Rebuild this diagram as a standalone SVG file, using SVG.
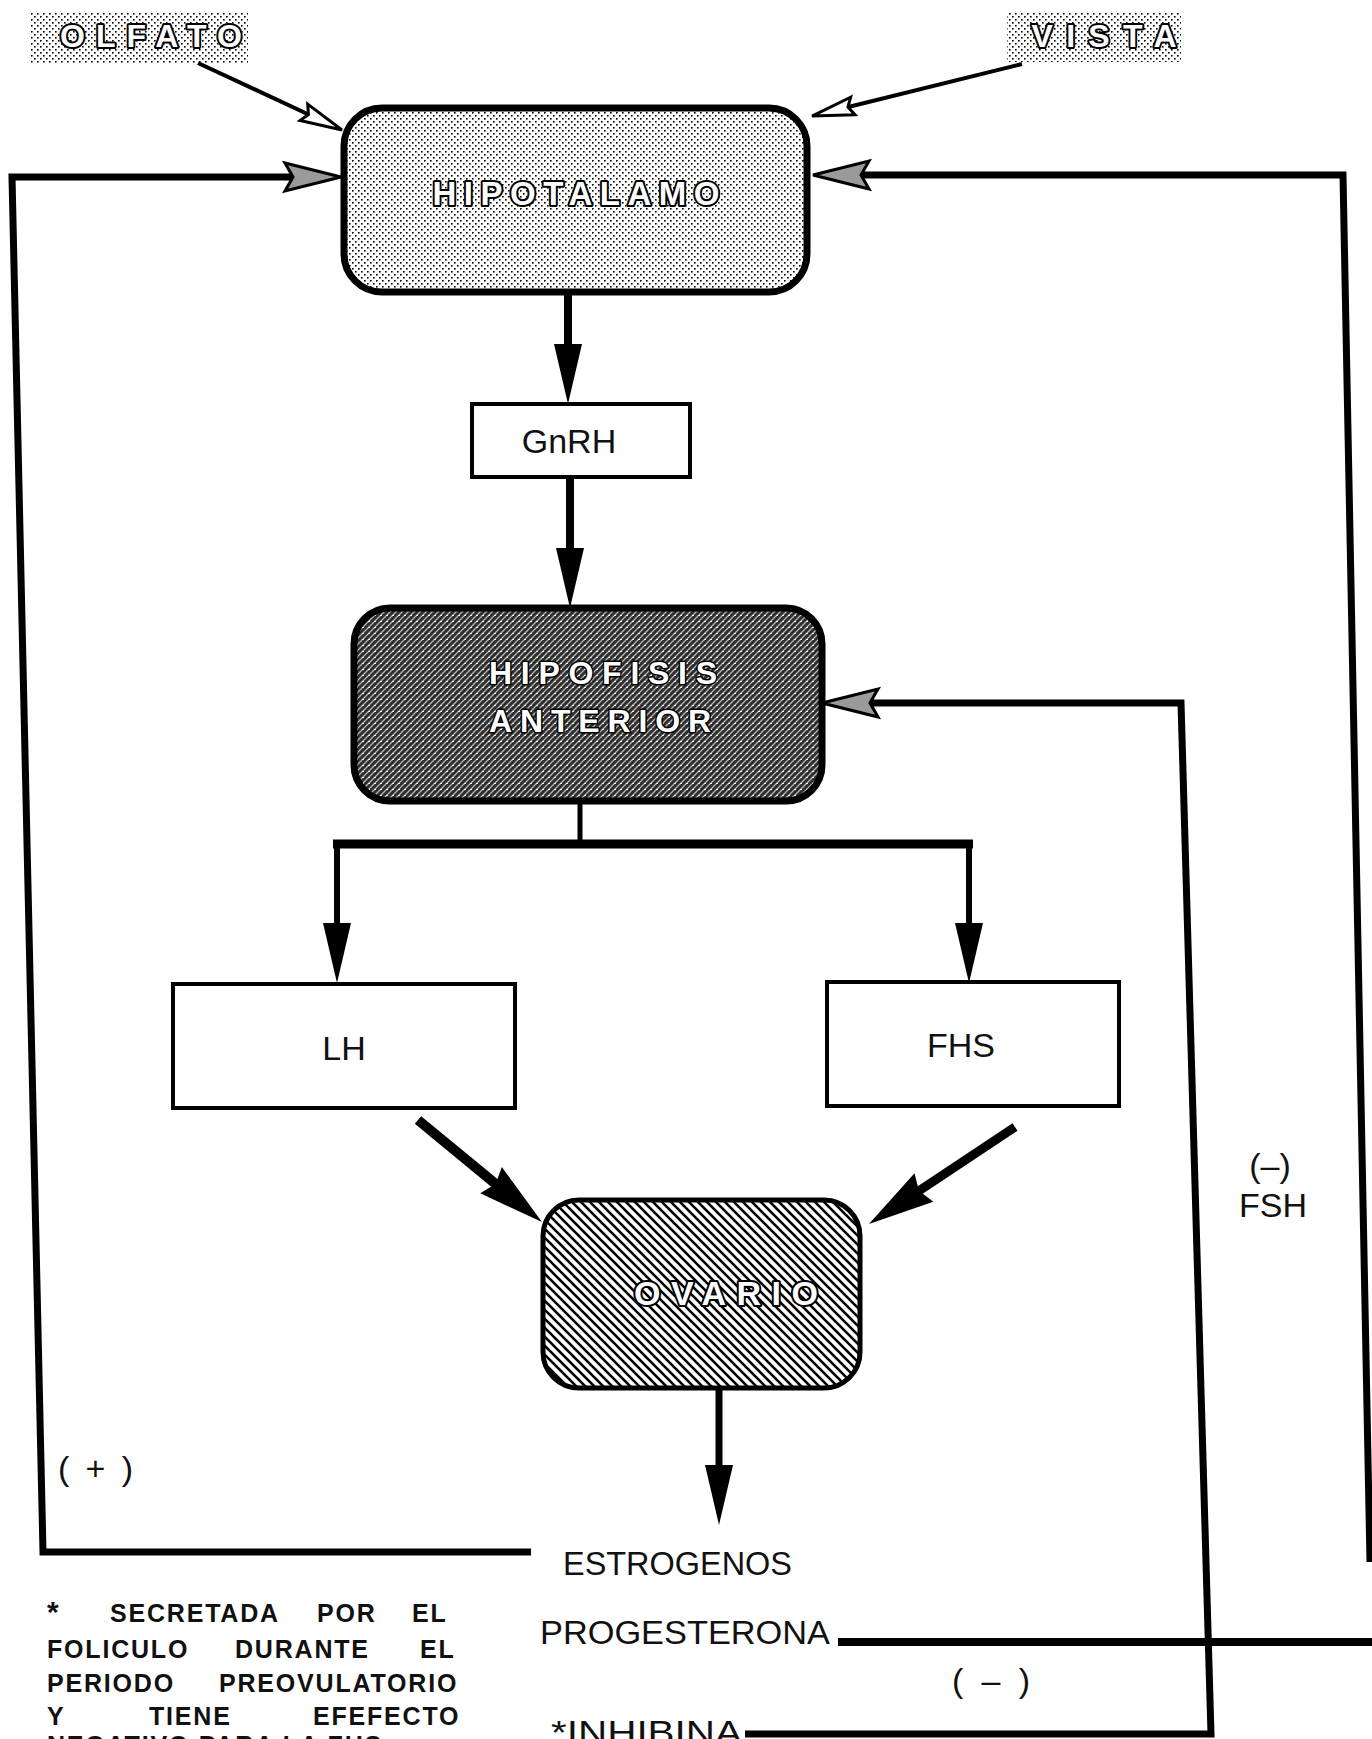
<svg xmlns="http://www.w3.org/2000/svg" width="1372" height="1739" viewBox="0 0 1372 1739">
<defs>
<style>
.lbl{font-family:"Liberation Sans",Arial,sans-serif;font-size:34px;fill:#111}
.note{font-family:"Liberation Sans",Arial,sans-serif;font-size:25px;font-weight:bold;fill:#111;letter-spacing:1.8px}
.out{font-family:"Liberation Sans",Arial,sans-serif;font-weight:bold;fill:#fff;stroke:#000;stroke-width:4;paint-order:stroke fill;stroke-linejoin:round}
.box{fill:#fff;stroke:#000;stroke-width:4}
.ln{fill:none;stroke:#000;stroke-linejoin:miter;stroke-linecap:butt}
</style>
<pattern id="dots" width="6" height="6" patternUnits="userSpaceOnUse">
<rect width="6" height="6" fill="#fff"/>
<rect x="1" y="1" width="1.6" height="1.6" fill="#000"/>
<rect x="4" y="4" width="1.6" height="1.6" fill="#000"/>
</pattern>
<pattern id="dark" width="6" height="6" patternUnits="userSpaceOnUse">
<rect width="6" height="6" fill="#2e2e2e"/>
<path d="M-1,7 L7,-1 M-1,1 L1,-1 M5,7 L7,5" stroke="#b5b5b5" stroke-width="1.3"/>
<rect x="2" y="3" width="2" height="1" fill="#eee"/>
</pattern>
<pattern id="hatch" width="9" height="9" patternUnits="userSpaceOnUse">
<rect width="9" height="9" fill="#fff"/>
<path d="M-1,-1 L10,10 M-1,8 L1,10 M8,-1 L10,1" stroke="#000" stroke-width="2.6"/>
</pattern>
<marker id="ah" markerUnits="userSpaceOnUse" markerWidth="62" markerHeight="30" refX="20" refY="15" orient="auto" overflow="visible">
<path d="M0,1 L60,15 L0,29 Z" fill="#000"/>
</marker>
<marker id="ahBig" markerUnits="userSpaceOnUse" markerWidth="68" markerHeight="36" refX="22" refY="18" orient="auto" overflow="visible">
<path d="M0,1 L66,18 L0,35 L6,18 Z" fill="#000"/>
</marker>
<marker id="ahH" markerUnits="userSpaceOnUse" markerWidth="60" markerHeight="32" refX="20" refY="16" orient="auto" overflow="visible">
<path d="M2,2 L58,16 L2,30 L10,16 Z" fill="#9a9a9a" stroke="#000" stroke-width="3" stroke-linejoin="miter"/>
</marker>
<marker id="ahS" markerUnits="userSpaceOnUse" markerWidth="46" markerHeight="22" refX="16" refY="11" orient="auto" overflow="visible">
<path d="M2,2 L44,11 L2,20 L7,11 Z" fill="#fff" stroke="#000" stroke-width="3" stroke-linejoin="miter"/>
</marker>
</defs>
<rect width="1372" height="1739" fill="#fff"/>

<g id="olfato">
<rect x="30" y="12" width="218" height="51" fill="url(#dots)"/>
<text class="out" x="151" y="47" font-size="32" text-anchor="middle" textLength="182" lengthAdjust="spacing">OLFATO</text>
</g>
<g id="vista">
<rect x="1007" y="12" width="174" height="50" fill="url(#dots)"/>
<text class="out" x="1104" y="47" font-size="32" text-anchor="middle" textLength="145" lengthAdjust="spacing">VISTA</text>
</g>

<g id="hipotalamo">
<rect x="344" y="108" width="463" height="184" rx="38" fill="url(#dots)" stroke="#000" stroke-width="7"/>
<text class="out" x="576" y="205" font-size="33" text-anchor="middle" textLength="287" lengthAdjust="spacing">HIPOTALAMO</text>
</g>

<g id="gnrh">
<rect class="box" x="472" y="404" width="218" height="73"/>
<text class="lbl" x="569" y="453" font-size="32" text-anchor="middle">GnRH</text>
</g>

<g id="hipofisis">
<rect x="354" y="608" width="468" height="193" rx="36" fill="url(#dark)" stroke="#000" stroke-width="7"/>
<text class="out" x="603" y="684" font-size="32" text-anchor="middle" textLength="228" lengthAdjust="spacing" style="stroke-width:3">HIPOFISIS</text>
<text class="out" x="600" y="732" font-size="32" text-anchor="middle" textLength="222" lengthAdjust="spacing" style="stroke-width:3">ANTERIOR</text>
</g>

<g id="lh">
<rect class="box" x="173" y="984" width="342" height="124"/>
<text class="lbl" x="344" y="1060" text-anchor="middle">LH</text>
</g>

<g id="fhs">
<rect class="box" x="827" y="982" width="292" height="124"/>
<text class="lbl" x="961" y="1057" text-anchor="middle">FHS</text>
</g>

<g id="ovario">
<rect x="543" y="1200" width="317" height="188" rx="36" fill="url(#hatch)" stroke="#000" stroke-width="5"/>
<text class="out" x="726" y="1305" font-size="34" text-anchor="middle" textLength="184" lengthAdjust="spacing">OVARIO</text>
</g>

<g id="estrogenos">
<text class="lbl" x="563" y="1575" textLength="229" lengthAdjust="spacingAndGlyphs">ESTROGENOS</text>
</g>
<g id="progesterona">
<text class="lbl" x="540" y="1644" textLength="290" lengthAdjust="spacingAndGlyphs">PROGESTERONA</text>
</g>
<g id="inhibina">
<text class="lbl" x="551" y="1744" font-size="35" textLength="191" lengthAdjust="spacingAndGlyphs">*INHIBINA</text>
</g>

<g id="labels">
<text class="lbl" x="58" y="1480" font-size="30" textLength="75" lengthAdjust="spacing">( + )</text>
<text class="lbl" x="952" y="1692" font-size="30" textLength="78" lengthAdjust="spacing">( – )</text>
<text class="lbl" x="1270" y="1177" font-size="30" text-anchor="middle">(–)</text>
<text class="lbl" x="1273" y="1217" text-anchor="middle">FSH</text>
</g>

<g id="nota">
<text class="note" y="1622"><tspan x="47" font-size="30">*</tspan><tspan x="110">SECRETADA</tspan><tspan x="317">POR</tspan><tspan x="412">EL</tspan></text>
<text class="note" y="1658"><tspan x="47">FOLICULO</tspan><tspan x="235">DURANTE</tspan><tspan x="420">EL</tspan></text>
<text class="note" y="1692"><tspan x="47">PERIODO</tspan><tspan x="219">PREOVULATORIO</tspan></text>
<text class="note" y="1725"><tspan x="47">Y</tspan><tspan x="149">TIENE</tspan><tspan x="313">EFEFECTO</tspan></text>
<text class="note" y="1754" x="47">NEGATIVO PARA LA FHS</text>
</g>

<g id="connectors">
<path class="ln" d="M198,63 L316.6,118.2" stroke-width="4" marker-end="url(#ahS)"/>
<path class="ln" d="M1022,64 L839.2,109.3" stroke-width="4" marker-end="url(#ahS)"/>
<path class="ln" d="M531,1552 L43,1552 L12,177 L303,177" stroke-width="7" marker-end="url(#ahH)"/>
<path class="ln" d="M1370,1562 L1343,175 L851,175" stroke-width="7" marker-end="url(#ahH)"/>
<path class="ln" d="M838,1642 L1372,1642" stroke-width="8"/>
<path class="ln" d="M745,1734 L1211,1734 L1181,703 L860,703" stroke-width="7" marker-end="url(#ahH)"/>
<path class="ln" d="M568,292 L568,364" stroke-width="8" marker-end="url(#ah)"/>
<path class="ln" d="M570,477 L570,568" stroke-width="8" marker-end="url(#ah)"/>
<path class="ln" d="M580,801 L580,844" stroke-width="5"/>
<path class="ln" d="M333,844 L973,844" stroke-width="9"/>
<path class="ln" d="M337,844 L337,943" stroke-width="6" marker-end="url(#ah)"/>
<path class="ln" d="M969,844 L969,943" stroke-width="6" marker-end="url(#ah)"/>
<path class="ln" d="M418,1120 L508,1194.1" stroke-width="10" marker-end="url(#ahBig)"/>
<path class="ln" d="M1015,1127 L905.6,1199.7" stroke-width="9" marker-end="url(#ahBig)"/>
<path class="ln" d="M719,1389 L719,1485" stroke-width="7" marker-end="url(#ah)"/>
</g>
</svg>
